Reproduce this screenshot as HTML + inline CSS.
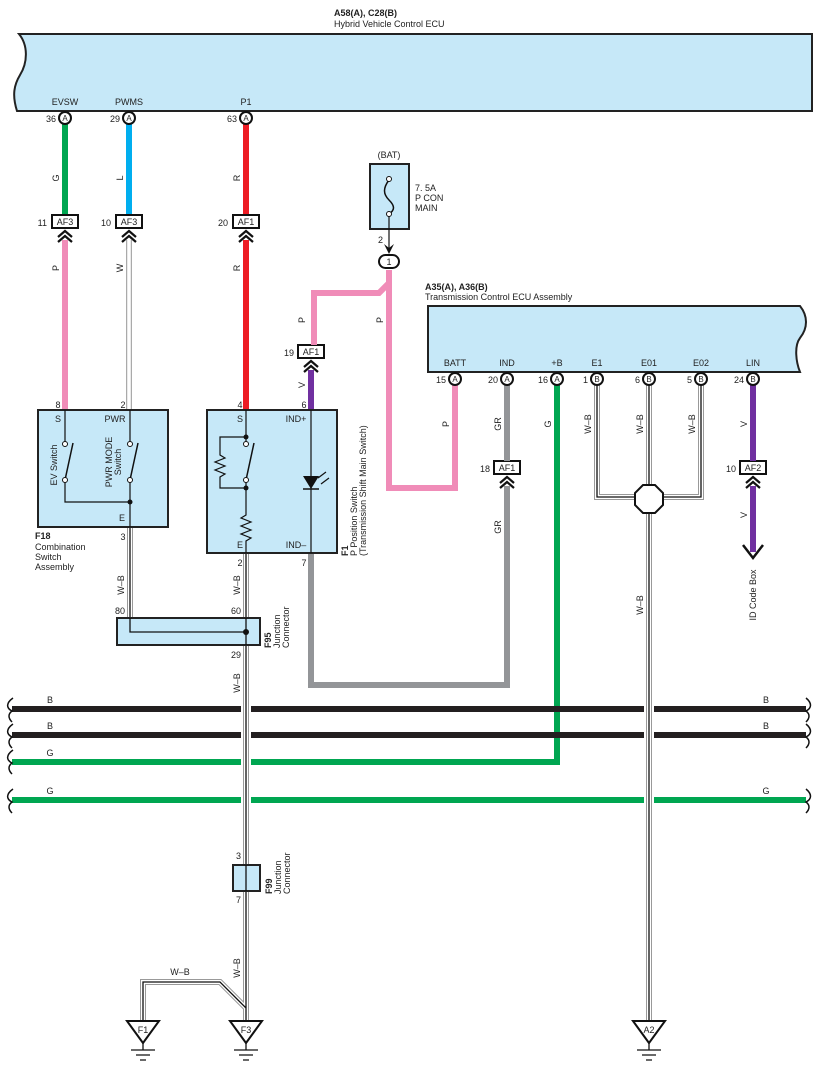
<!DOCTYPE html>
<html><head><meta charset="utf-8"><style>
html,body{margin:0;padding:0;background:#fff}
svg{display:block}
text{font-family:"Liberation Sans",sans-serif;font-size:9px;fill:#222}
.b{font-weight:bold}
</style></head><body>
<svg width="817" height="1074" viewBox="0 0 817 1074" xmlns="http://www.w3.org/2000/svg">
<defs>
<g id="chev"><path d="M-7,6 L0,0 L7,6 M-7,11 L0,5 L7,11" fill="none" stroke="#111" stroke-width="2.2"/></g>
</defs>
<!-- Top ECU -->
<text x="334" y="16" class="b">A58(A), C28(B)</text>
<text x="334" y="27">Hybrid Vehicle Control ECU</text>
<path d="M19,34 L812,34 L812,111 L17,111 C12,95 14,85 20,75 C28,62 28,45 19,34 Z" fill="#c6e8f8" stroke="#222" stroke-width="2"/>
<text x="65" y="105" text-anchor="middle">EVSW</text>
<text x="129" y="105" text-anchor="middle">PWMS</text>
<text x="246" y="105" text-anchor="middle">P1</text>

<!-- wires from top ECU -->
<line x1="65" y1="124" x2="65" y2="215" stroke="#00a651" stroke-width="6"/>
<line x1="65" y1="240" x2="65" y2="410" stroke="#f08cb8" stroke-width="6"/>
<line x1="129" y1="124" x2="129" y2="215" stroke="#00aeef" stroke-width="6"/>
<line x1="129" y1="240" x2="129" y2="410" stroke="#aaa" stroke-width="6"/>
<line x1="129" y1="240" x2="129" y2="410" stroke="#fff" stroke-width="3.5"/>
<line x1="246" y1="124" x2="246" y2="215" stroke="#ed1c24" stroke-width="6"/>
<line x1="246" y1="240" x2="246" y2="410" stroke="#ed1c24" stroke-width="6"/>

<!-- pins top -->
<g fill="#fff" stroke="#111" stroke-width="2">
<circle cx="65" cy="118" r="6"/><circle cx="129" cy="118" r="6"/><circle cx="246" cy="118" r="6"/>
</g>
<g text-anchor="middle" font-size="8"><text x="65" y="121" style="font-size:8px">A</text><text x="129" y="121" style="font-size:8px">A</text><text x="246" y="121" style="font-size:8px">A</text></g>
<text x="56" y="122" text-anchor="end">36</text>
<text x="120" y="122" text-anchor="end">29</text>
<text x="237" y="122" text-anchor="end">63</text>

<!-- AF boxes -->
<g fill="#fff" stroke="#111" stroke-width="2">
<rect x="52" y="215" width="26" height="13"/><rect x="116" y="215" width="26" height="13"/><rect x="233" y="215" width="26" height="13"/>
<rect x="298" y="345" width="26" height="13"/><rect x="494" y="461" width="26" height="13"/><rect x="740" y="461" width="26" height="13"/>
</g>
<text x="65" y="225" text-anchor="middle">AF3</text><text x="47" y="226" text-anchor="end">11</text>
<text x="129" y="225" text-anchor="middle">AF3</text><text x="111" y="226" text-anchor="end">10</text>
<text x="246" y="225" text-anchor="middle">AF1</text><text x="228" y="226" text-anchor="end">20</text>
<text x="311" y="355" text-anchor="middle">AF1</text><text x="294" y="356" text-anchor="end">19</text>
<text x="507" y="471" text-anchor="middle">AF1</text><text x="490" y="472" text-anchor="end">18</text>
<text x="753" y="471" text-anchor="middle">AF2</text><text x="736" y="472" text-anchor="end">10</text>
<use href="#chev" x="65" y="231"/><use href="#chev" x="129" y="231"/><use href="#chev" x="246" y="231"/>

<!-- fuse -->
<text x="389" y="158" text-anchor="middle">(BAT)</text>
<rect x="370" y="164" width="39" height="65" fill="#c6e8f8" stroke="#222" stroke-width="2"/>
<path d="M389,180 C383,188 383,194 389,200 C395,206 395,210 389,214" fill="none" stroke="#111" stroke-width="1.5"/>
<circle cx="389" cy="179" r="2.5" fill="#fff" stroke="#111"/><circle cx="389" cy="214" r="2.5" fill="#fff" stroke="#111"/>
<text x="415" y="191">7. 5A</text><text x="415" y="201">P CON</text><text x="415" y="211">MAIN</text>
<line x1="389" y1="216" x2="389" y2="250" stroke="#111" stroke-width="1.2"/>
<path d="M384,244 L389,254 L394,244 L389,248 Z" fill="#111"/>
<text x="383" y="243" text-anchor="end">2</text>
<path d="M389,270 L389,488 L455,488 L455,385" fill="none" stroke="#f08cb8" stroke-width="6"/>
<path d="M389,283 L379,293 L314,293 L314,345" fill="none" stroke="#f08cb8" stroke-width="6"/>
<rect x="379" y="255" width="20" height="13" rx="6.5" fill="#fff" stroke="#111" stroke-width="2"/>
<text x="389" y="265" text-anchor="middle">1</text>
<use href="#chev" x="311" y="361"/>
<line x1="311" y1="370" x2="311" y2="410" stroke="#7030a0" stroke-width="6"/>

<!-- Trans ECU -->
<text x="425" y="290" class="b">A35(A), A36(B)</text>
<text x="425" y="300">Transmission Control ECU Assembly</text>
<path d="M428,306 L800,306 C808,316 808,328 800,338 C794,346 796,362 800,372 L428,372 Z" fill="#c6e8f8" stroke="#222" stroke-width="2"/>
<g text-anchor="middle">
<text x="455" y="366">BATT</text><text x="507" y="366">IND</text><text x="557" y="366">+B</text><text x="597" y="366">E1</text><text x="649" y="366">E01</text><text x="701" y="366">E02</text><text x="753" y="366">LIN</text>
</g>

<!-- gray IND -->
<line x1="507" y1="385" x2="507" y2="461" stroke="#939598" stroke-width="6"/>
<path d="M507,486 L507,685 L311,685 L311,553" fill="none" stroke="#939598" stroke-width="6"/>
<use href="#chev" x="507" y="477"/>
<!-- green +B -->
<path d="M557,385 L557,762 L12,762" fill="none" stroke="#00a651" stroke-width="6"/>
<!-- LIN -->
<line x1="753" y1="385" x2="753" y2="461" stroke="#7030a0" stroke-width="6"/>
<line x1="753" y1="486" x2="753" y2="552" stroke="#7030a0" stroke-width="6"/>
<use href="#chev" x="753" y="477"/>
<path d="M743,545 L753,558 L763,545" fill="none" stroke="#111" stroke-width="2.5"/>

<!-- buses -->
<g stroke-width="6">
<line x1="12" y1="709" x2="806" y2="709" stroke="#231f20"/>
<line x1="12" y1="735" x2="806" y2="735" stroke="#231f20"/>
<line x1="12" y1="800" x2="806" y2="800" stroke="#00a651"/>
</g>
<g fill="none" stroke="#111" stroke-width="1.5">
<path d="M13,698 C6,703 6,708 12,711 C8,714 8,718 12,722"/>
<path d="M13,724 C6,729 6,734 12,737 C8,740 8,744 12,748"/>
<path d="M13,750 C6,755 6,760 12,763 C8,766 8,770 12,774"/>
<path d="M13,789 C6,794 6,799 12,802 C8,805 8,809 12,813"/>
<path d="M806,698 C812,703 812,708 806,711 C810,714 810,718 806,722"/>
<path d="M806,724 C812,729 812,734 806,737 C810,740 810,744 806,748"/>
<path d="M806,789 C812,794 812,799 806,802 C810,805 810,809 806,813"/>
</g>
<g text-anchor="middle"><text x="50" y="703">B</text><text x="50" y="729">B</text><text x="50" y="756">G</text><text x="50" y="794">G</text>
<text x="766" y="703">B</text><text x="766" y="729">B</text><text x="766" y="794">G</text></g>

<!-- W-B lines -->
<g fill="none">
<path d="M597,385 L597,497 L635,497 M701,385 L701,497 L663,497" stroke="#999" stroke-width="6"/>
<path d="M597,385 L597,497 L635,497 M701,385 L701,497 L663,497" stroke="#fff" stroke-width="4"/>
<path d="M597,385 L597,497 L635,497 M701,385 L701,497 L663,497" stroke="#111" stroke-width="1.3"/>
<path d="M649,385 L649,1020 M130,527 L130,632 L246,632 M246,553 L246,1020 M246,1008 L220,982 L143,982 L143,1020" stroke="#fff" stroke-width="10"/>
<path d="M649,385 L649,1020 M130,527 L130,632 L246,632 M246,553 L246,1020 M246,1008 L220,982 L143,982 L143,1020" stroke="#999" stroke-width="6"/>
<path d="M649,385 L649,1020 M130,527 L130,632 L246,632 M246,553 L246,1020 M246,1008 L220,982 L143,982 L143,1020" stroke="#fff" stroke-width="4"/>
<path d="M649,385 L649,1020 M130,527 L130,632 L246,632 M246,553 L246,1020 M246,1008 L220,982 L143,982 L143,1020" stroke="#111" stroke-width="1.3"/>
</g>
<polygon points="643,485 655,485 663,493 663,505 655,513 643,513 635,505 635,493" fill="#fff" stroke="#111" stroke-width="2"/>

<!-- trans pins -->
<g fill="#fff" stroke="#111" stroke-width="2">
<circle cx="455" cy="379" r="6"/><circle cx="507" cy="379" r="6"/><circle cx="557" cy="379" r="6"/><circle cx="597" cy="379" r="6"/><circle cx="649" cy="379" r="6"/><circle cx="701" cy="379" r="6"/><circle cx="753" cy="379" r="6"/>
</g>
<g text-anchor="middle" style="font-size:8px">
<text x="455" y="382" style="font-size:8px">A</text><text x="507" y="382" style="font-size:8px">A</text><text x="557" y="382" style="font-size:8px">A</text><text x="597" y="382" style="font-size:8px">B</text><text x="649" y="382" style="font-size:8px">B</text><text x="701" y="382" style="font-size:8px">B</text><text x="753" y="382" style="font-size:8px">B</text>
</g>
<g text-anchor="end"><text x="446" y="383">15</text><text x="498" y="383">20</text><text x="548" y="383">16</text><text x="588" y="383">1</text><text x="640" y="383">6</text><text x="692" y="383">5</text><text x="744" y="383">24</text></g>

<!-- F18 -->
<rect x="38" y="410" width="130" height="117" fill="#c6e8f8" stroke="#222" stroke-width="2"/>
<g fill="none" stroke="#111" stroke-width="1.2">
<path d="M65,410 L65,444 M65,480 L65,502 L130,502 M130,410 L130,444 M130,480 L130,527"/>
<path d="M65,480 L73,443 M130,480 L138,443" stroke-width="1.5"/>
</g>
<g fill="#fff" stroke="#111"><circle cx="65" cy="444" r="2.5"/><circle cx="65" cy="480" r="2.5"/><circle cx="130" cy="444" r="2.5"/><circle cx="130" cy="480" r="2.5"/></g>
<circle cx="130" cy="502" r="2.5" fill="#111"/>
<text x="58" y="422" text-anchor="middle">S</text><text x="115" y="422" text-anchor="middle">PWR</text><text x="122" y="521" text-anchor="middle">E</text>
<text x="58" y="408" text-anchor="middle">8</text><text x="123" y="408" text-anchor="middle">2</text><text x="123" y="540" text-anchor="middle">3</text>
<text transform="rotate(-90 57 465)" x="57" y="465" text-anchor="middle">EV Switch</text>
<text transform="rotate(-90 112 462)" x="112" y="462" text-anchor="middle">PWR MODE</text>
<text transform="rotate(-90 121 462)" x="121" y="462" text-anchor="middle">Switch</text>
<text x="35" y="539" class="b">F18</text><text x="35" y="550">Combination</text><text x="35" y="560">Switch</text><text x="35" y="570">Assembly</text>

<!-- F1 -->
<rect x="207" y="410" width="130" height="143" fill="#c6e8f8" stroke="#222" stroke-width="2"/>
<g fill="none" stroke="#111" stroke-width="1.2">
<path d="M246,410 L246,444 M246,480 L246,515 L241,518 L251,522 L241,526 L251,530 L241,534 L251,538 L246,541 L246,553"/>
<path d="M246,437 L220,437 L220,455 L225,458 L215,462 L225,466 L215,470 L225,474 L220,477 L220,488 L246,488"/>
<path d="M246,480 L254,443" stroke-width="1.5"/>
<path d="M311,410 L311,553"/>
<path d="M318,478 L326,472 M321,484 L329,478"/>
</g>
<polygon points="303,476 319,476 311,489" fill="#111"/><line x1="303" y1="489" x2="319" y2="489" stroke="#111" stroke-width="1.5"/>
<g fill="#fff" stroke="#111"><circle cx="246" cy="444" r="2.5"/><circle cx="246" cy="480" r="2.5"/></g>
<circle cx="246" cy="437" r="2.5" fill="#111"/><circle cx="246" cy="488" r="2.5" fill="#111"/>
<text x="240" y="422" text-anchor="middle">S</text><text x="296" y="422" text-anchor="middle">IND+</text>
<text x="240" y="548" text-anchor="middle">E</text><text x="296" y="548" text-anchor="middle">IND–</text>
<text x="240" y="408" text-anchor="middle">4</text><text x="304" y="408" text-anchor="middle">6</text>
<text x="240" y="566" text-anchor="middle">2</text><text x="304" y="566" text-anchor="middle">7</text>
<text transform="rotate(-90 348 556)" x="348" y="556" class="b">F1</text>
<text transform="rotate(-90 357 556)" x="357" y="556">P Position Switch</text>
<text transform="rotate(-90 366 556)" x="366" y="556">(Transmission Shift Main Switch)</text>

<!-- F95 -->
<rect x="117" y="618" width="143" height="27" fill="#c6e8f8" stroke="#222" stroke-width="2"/>
<path d="M130,618 L130,632 L246,632 M246,618 L246,645" fill="none" stroke="#111" stroke-width="1.3"/>
<circle cx="246" cy="632" r="3" fill="#111"/>
<text x="125" y="614" text-anchor="end">80</text><text x="241" y="614" text-anchor="end">60</text><text x="241" y="658" text-anchor="end">29</text>
<text transform="rotate(-90 271 648)" x="271" y="648" class="b">F95</text>
<text transform="rotate(-90 280 648)" x="280" y="648">Junction</text>
<text transform="rotate(-90 289 648)" x="289" y="648">Connector</text>

<!-- F99 -->
<rect x="233" y="865" width="27" height="26" fill="#c6e8f8" stroke="#222" stroke-width="2"/>
<line x1="246" y1="865" x2="246" y2="891" stroke="#111" stroke-width="1.3"/>
<text x="241" y="859" text-anchor="end">3</text><text x="241" y="903" text-anchor="end">7</text>
<text transform="rotate(-90 272 894)" x="272" y="894" class="b">F99</text>
<text transform="rotate(-90 281 894)" x="281" y="894">Junction</text>
<text transform="rotate(-90 290 894)" x="290" y="894">Connector</text>

<!-- grounds -->
<g fill="#fff" stroke="#111" stroke-width="2">
<polygon points="127,1021 159,1021 143,1043"/><polygon points="230,1021 262,1021 246,1043"/><polygon points="633,1021 665,1021 649,1043"/>
</g>
<g stroke="#111" stroke-width="1.3">
<path d="M143,1043 L143,1050 M131,1050 L155,1050 M136,1055 L150,1055 M140,1060 L146,1060"/>
<path d="M246,1043 L246,1050 M234,1050 L258,1050 M239,1055 L253,1055 M243,1060 L249,1060"/>
<path d="M649,1043 L649,1050 M637,1050 L661,1050 M642,1055 L656,1055 M646,1060 L652,1060"/>
</g>
<g text-anchor="middle"><text x="143" y="1033">F1</text><text x="246" y="1033">F3</text><text x="649" y="1033">A2</text></g>
<text x="180" y="975" text-anchor="middle">W–B</text>

<!-- rotated wire labels -->
<g text-anchor="middle">
<text transform="rotate(-90 59 178)" x="59" y="178">G</text>
<text transform="rotate(-90 123 178)" x="123" y="178">L</text>
<text transform="rotate(-90 240 178)" x="240" y="178">R</text>
<text transform="rotate(-90 59 268)" x="59" y="268">P</text>
<text transform="rotate(-90 123 268)" x="123" y="268">W</text>
<text transform="rotate(-90 240 268)" x="240" y="268">R</text>
<text transform="rotate(-90 305 320)" x="305" y="320">P</text>
<text transform="rotate(-90 383 320)" x="383" y="320">P</text>
<text transform="rotate(-90 305 385)" x="305" y="385">V</text>
<text transform="rotate(-90 449 424)" x="449" y="424">P</text>
<text transform="rotate(-90 501 424)" x="501" y="424">GR</text>
<text transform="rotate(-90 551 424)" x="551" y="424">G</text>
<text transform="rotate(-90 591 424)" x="591" y="424">W–B</text>
<text transform="rotate(-90 643 424)" x="643" y="424">W–B</text>
<text transform="rotate(-90 695 424)" x="695" y="424">W–B</text>
<text transform="rotate(-90 747 424)" x="747" y="424">V</text>
<text transform="rotate(-90 501 527)" x="501" y="527">GR</text>
<text transform="rotate(-90 747 515)" x="747" y="515">V</text>
<text transform="rotate(-90 643 605)" x="643" y="605">W–B</text>
<text transform="rotate(-90 124 585)" x="124" y="585">W–B</text>
<text transform="rotate(-90 240 585)" x="240" y="585">W–B</text>
<text transform="rotate(-90 240 683)" x="240" y="683">W–B</text>
<text transform="rotate(-90 240 968)" x="240" y="968">W–B</text>
<text transform="rotate(-90 756 595)" x="756" y="595">ID Code Box</text>
</g>
</svg>
</body></html>
